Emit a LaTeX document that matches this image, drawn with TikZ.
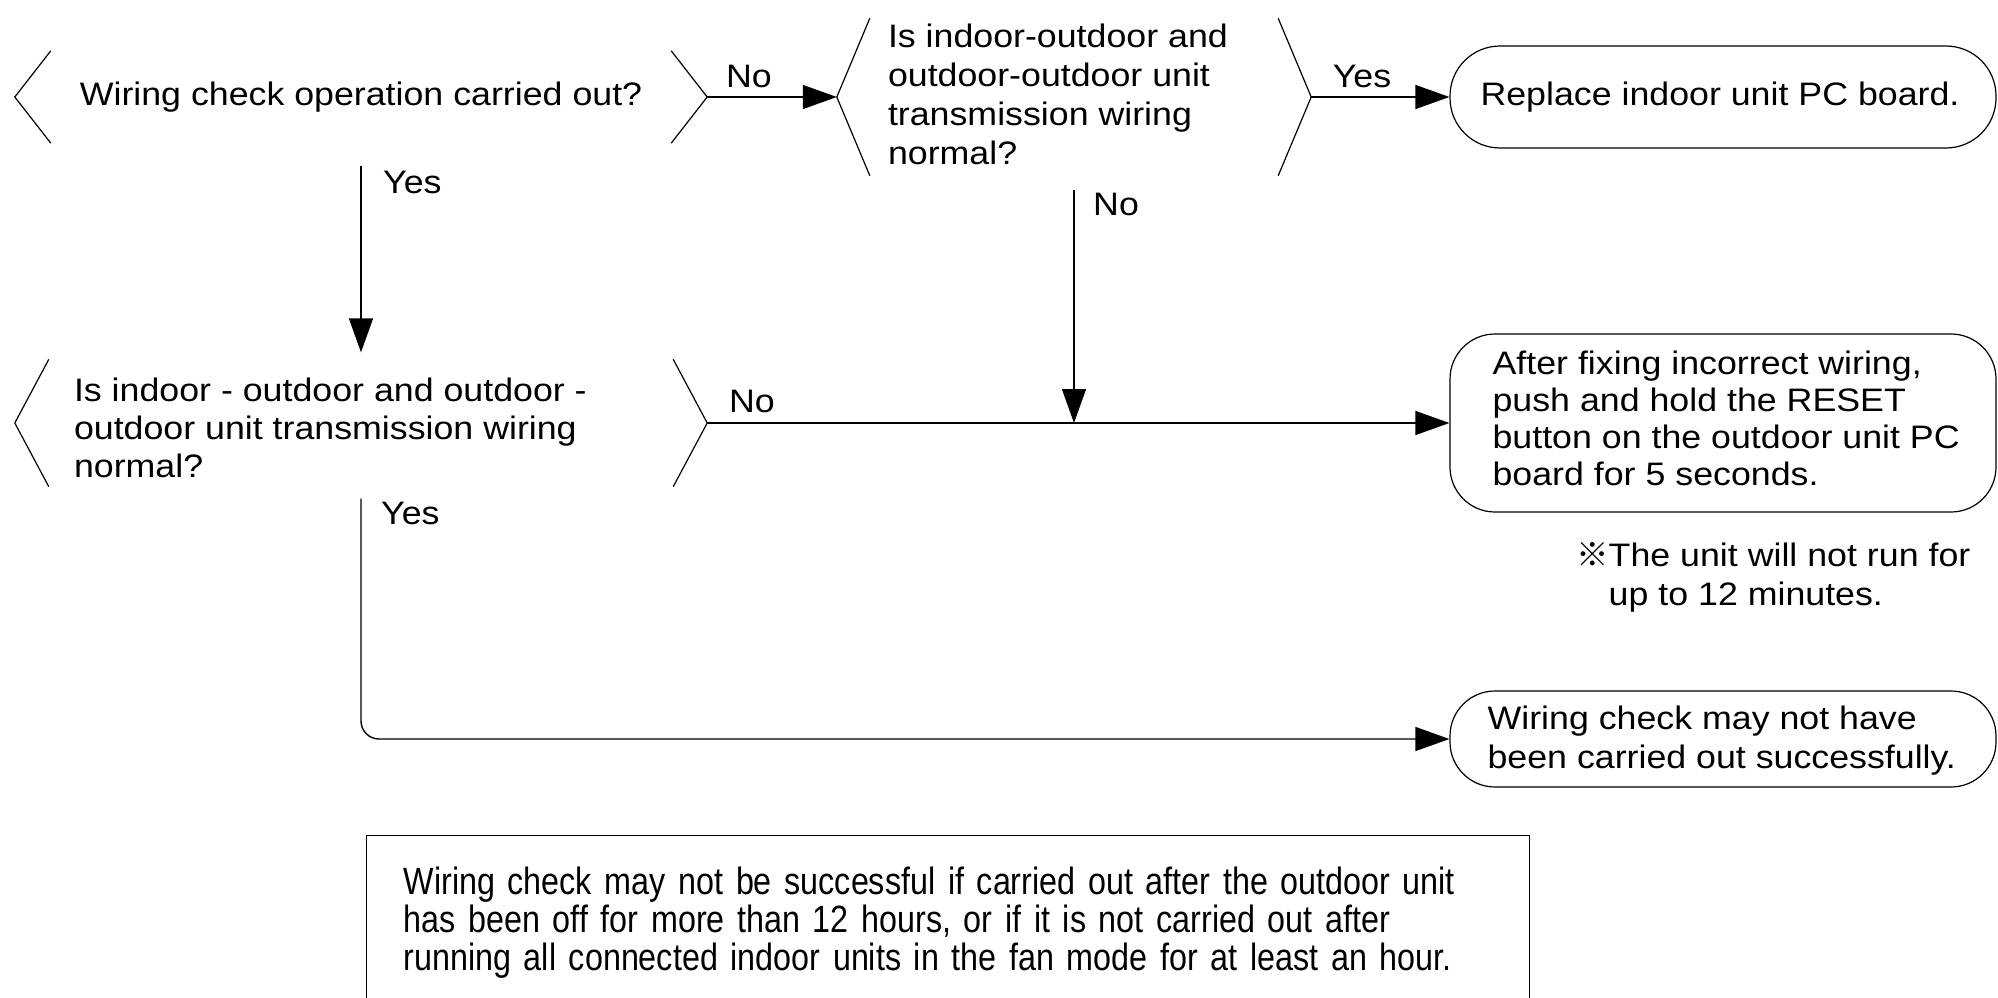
\documentclass[tikz,border=0pt]{standalone}
\usepackage{fontspec}
\setmainfont[FakeStretch=1.1]{Liberation Sans}
\newfontfamily\cjk{Noto Sans CJK JP}
\newfontfamily\narrowfont[FakeStretch=0.85]{Liberation Sans}
\usetikzlibrary{arrows.meta}
\begin{document}
\begin{tikzpicture}[x=1pt,y=-1pt,
  txt/.style={font=\fontsize{32.5}{39}\selectfont},
  conn/.style={line width=1.4pt,-{Triangle[length=34pt,width=24pt]}},
  chev/.style={line width=1.2pt},
  decision/.style={inner sep=0pt,draw=none},
  term/.style={draw,line width=1.2pt,rounded corners=#1,inner sep=0pt},
  lbl/.style={txt,inner sep=0pt},
  body/.style={txt,inner sep=0pt,align=left,anchor=west},
]
\clip (0,0) rectangle (1998,998);

% decisions
\node[decision, minimum width=692pt, minimum height=92pt] (d1) at (361,97) {};
\node[lbl] (d1t) at (d1.center) {Wiring check operation carried out?};
\node[decision, minimum width=474pt, minimum height=157pt] (d2) at (1074,97) {};
\node[body] (d2t) at ([xshift=51pt,yshift=3pt]d2.west)
  {Is indoor-outdoor and\\outdoor-outdoor unit\\transmission wiring\\normal?};
\node[decision, minimum width=692pt, minimum height=127pt] (d3) at (361,423) {};
\node[body, font=\fontsize{32.5}{38}\selectfont] (d3t) at ([xshift=59pt,yshift=-5pt]d3.west)
  {Is indoor - outdoor and outdoor -\\outdoor unit transmission wiring\\normal?};

\draw[chev] ([xshift=36pt]d1.north west) -- (d1.west) -- ([xshift=36pt]d1.south west);
\draw[chev] ([xshift=-36pt]d1.north east) -- (d1.east) -- ([xshift=-36pt]d1.south east);
\draw[chev] ([xshift=33pt]d2.north west) -- (d2.west) -- ([xshift=33pt]d2.south west);
\draw[chev] ([xshift=-33pt]d2.north east) -- (d2.east) -- ([xshift=-33pt]d2.south east);
\draw[chev] ([xshift=34pt]d3.north west) -- (d3.west) -- ([xshift=34pt]d3.south west);
\draw[chev] ([xshift=-34pt]d3.north east) -- (d3.east) -- ([xshift=-34pt]d3.south east);

% terminals
\node[term=50pt, minimum width=546pt, minimum height=102pt] (r1) at (1723,97) {};
\node[lbl] (r1t) at ([xshift=-3pt]r1.center) {Replace indoor unit PC board.};
\node[term=45pt, minimum width=546pt, minimum height=178pt] (r2) at (1723,423) {};
\node[body, font=\fontsize{32.5}{37}\selectfont] (r2t) at ([xshift=43pt,yshift=5pt]r2.west)
  {After fixing incorrect wiring,\\push and hold the RESET\\button on the outdoor unit PC\\board for 5 seconds.};
\node[term=45pt, minimum width=546pt, minimum height=96pt] (r3) at (1723,739) {};
\node[body] (r3t) at ([xshift=38pt,yshift=-2pt]r3.west)
  {Wiring check may not have\\been carried out successfully.};

% note
\node[body] (note) at (1576,577)
  {{\cjk ※}The unit will not run for\\\hphantom{\cjk ※}up to 12 minutes.};

% bottom box
\node[draw, line width=1.2pt, anchor=north west, minimum width=1163pt, minimum height=174pt,
  inner xsep=37pt, inner ysep=0pt, text width=1089pt, align=left,
  font=\narrowfont\fontsize{38}{38}\selectfont] (box) at (366,835)
  {Wiring check may not be successful if carried out after the outdoor unit\\has been off for more than 12 hours, or if it is not carried out after\\running all connected indoor units in the fan mode for at least an hour.};

% connectors
\draw[conn] (d1.east) -- (d2.west);
\draw[conn] (d2.east) -- (r1.west);
\draw[conn, shorten <=23pt, shorten >=7pt] (d1.south) -- (d3.north);
\draw[conn] (d3.east) -- (r2.west);
\coordinate (j) at (d2.south |- d3.east);
\draw[conn, shorten <=14pt] (d2.south) -- (j);
\draw[conn, rounded corners=18pt, shorten <=12pt] (d3.south) |- (r3.west);

% labels
\node[lbl, anchor=west] (l1) at (383,182) {Yes};
\node[lbl] (l2) at (749,76) {No};
\node[lbl] (l3) at (1362,76) {Yes};
\node[lbl, anchor=west] (l4) at (1093,204) {No};
\node[lbl] (l5) at (752,401) {No};
\node[lbl, anchor=west] (l6) at (381,513) {Yes};
\end{tikzpicture}
\end{document}
